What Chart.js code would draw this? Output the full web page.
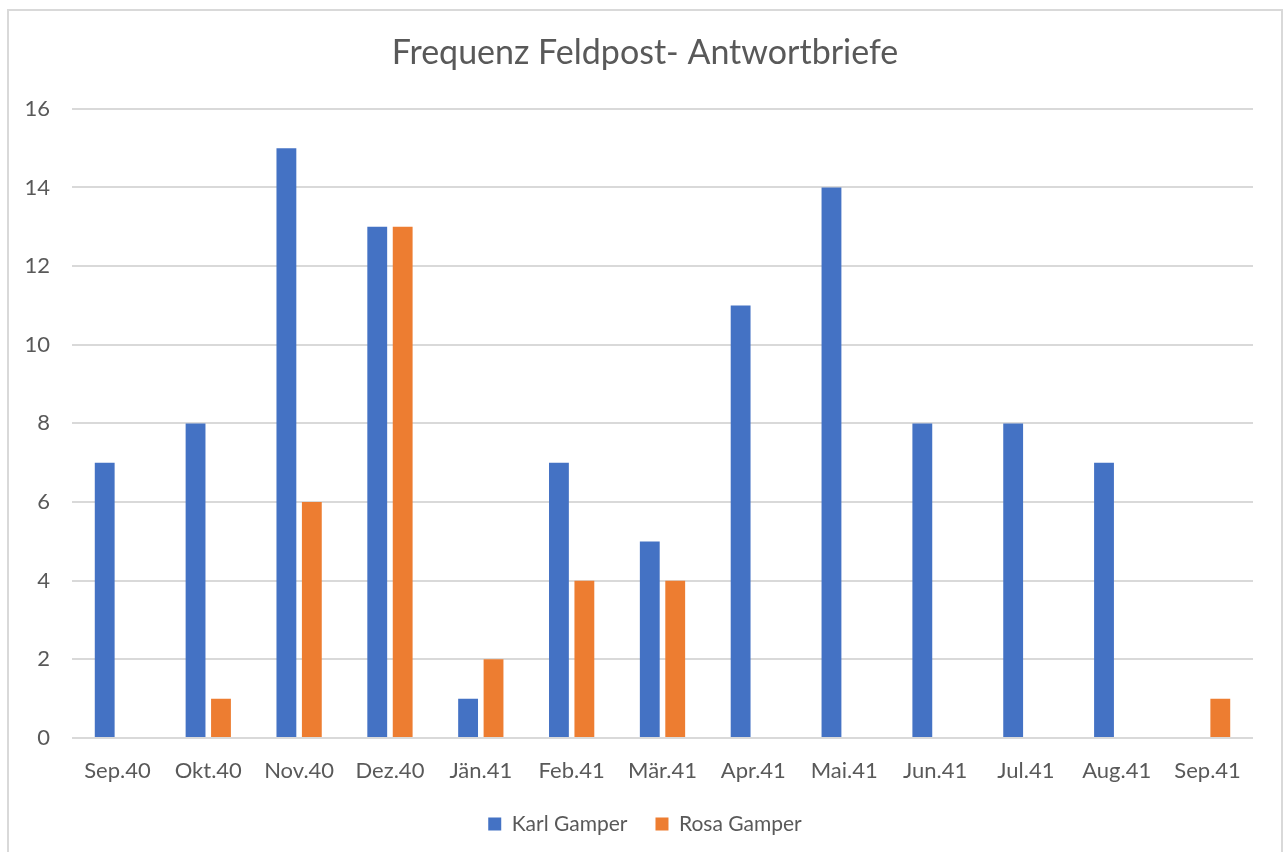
<!DOCTYPE html>
<html>
<head>
<meta charset="utf-8">
<script src="https://cdn.jsdelivr.net/npm/chart.js@4.4.0/dist/chart.umd.min.js"></script>
<style>
  html, body { margin: 0; padding: 0; background: #fff; overflow: hidden; }
  #wrap {
    position: absolute; left: 7px; top: 9px;
    width: 1272px; height: 850px;
    border: 2px solid #d9d9d9;
  }
  canvas { display: block; }
</style>
</head>
<body>
<div id="wrap"><canvas id="chart" width="1272" height="850"></canvas></div>
<script>
// Daten
const monate = ['Sep.40', 'Okt.40', 'Nov.40', 'Dez.40', 'Jän.41', 'Feb.41', 'Mär.41',
  'Apr.41', 'Mai.41', 'Jun.41', 'Jul.41', 'Aug.41', 'Sep.41'];
const karl = [7, 8, 15, 13, 1, 7, 5, 11, 14, 8, 8, 7, 0];
const rosa = [0, 1, 6, 13, 2, 4, 4, 0, 0, 0, 0, 0, 1];
const yTicks = [0, 2, 4, 6, 8, 10, 12, 14, 16];

const textColor = '#595959';
const fontFam = 'Lato, "Open Sans", sans-serif';

const ctx = document.getElementById('chart').getContext('2d');
new Chart(ctx, {
  type: 'bar',
  data: {
    labels: monate,
    datasets: [
      {
        label: 'Karl Gamper',
        data: karl,
        backgroundColor: '#4472C4',
        categoryPercentage: 0.56,
        barPercentage: 0.78
      },
      {
        label: 'Rosa Gamper',
        data: rosa,
        backgroundColor: '#ED7D31',
        categoryPercentage: 0.56,
        barPercentage: 0.78
      }
    ]
  },
  options: {
    responsive: false,
    animation: false,
    layout: { padding: { left: 0, right: 0, top: 0, bottom: 16.5 } },
    plugins: {
      title: {
        display: true,
        text: 'Frequenz Feldpost- Antwortbriefe',
        color: textColor,
        font: { family: fontFam, size: 34, weight: 'normal' },
        padding: { top: 22, bottom: 35 }
      },
      legend: {
        position: 'bottom',
        labels: {
          color: textColor,
          font: { family: fontFam, size: 21 },
          boxWidth: 13,
          boxHeight: 13,
          padding: 28
        }
      },
      tooltip: { enabled: false }
    },
    scales: {
      x: {
        afterFit: scale => { scale.height = 47.5; },
        grid: { display: false },
        border: { display: false },
        ticks: {
          color: textColor,
          font: { family: fontFam, size: 22 },
          padding: 12,
          maxRotation: 0
        }
      },
      y: {
        min: 0,
        max: 16,
        afterFit: scale => { scale.width = 63; },
        afterBuildTicks: scale => {
          scale.ticks = yTicks.map(v => ({ value: v }));
        },
        grid: { color: '#d9d9d9', lineWidth: 2, drawTicks: false },
        border: { display: false },
        ticks: {
          color: textColor,
          font: { family: fontFam, size: 22 },
          padding: 22
        }
      },
      // leerer Platz rechts, damit der Titel mittig bleibt
      rechts: {
        type: 'linear',
        position: 'right',
        afterFit: scale => { scale.width = 28; },
        grid: { display: false },
        border: { display: false },
        ticks: { display: false }
      }
    }
  }
});
</script>
</body>
</html>
